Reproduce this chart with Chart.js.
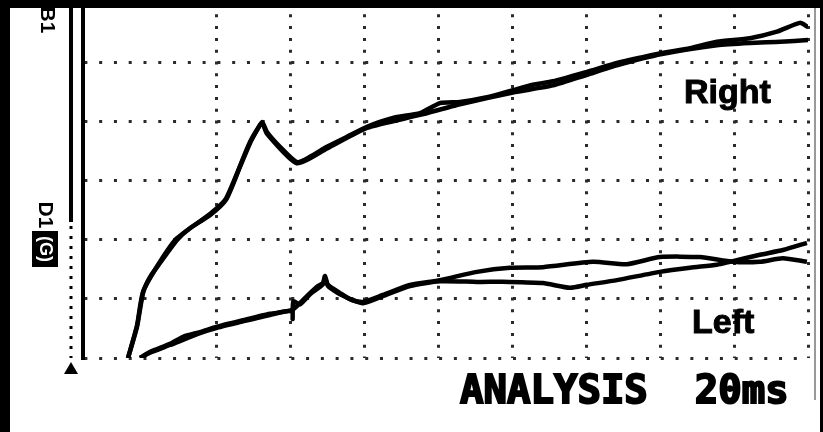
<!DOCTYPE html>
<html>
<head>
<meta charset="utf-8">
<script src="https://cdn.jsdelivr.net/npm/chart.js@4.4.1/dist/chart.umd.min.js"></script>
<style>
  html, body { margin: 0; padding: 0; background: #fff; }
  #wrap { width: 823px; height: 432px; }
</style>
</head>
<body>
<div id="wrap"><canvas id="myChart" width="823" height="432"></canvas></div>
<script>
// time in ms (20 ms per division), amplitude in divisions
const rightTimes1 = [-4.06, -1.62, 0, 1.89, 4.6, 9.2, 12.72, 18.13, 22.46, 26.25, 28.96, 30.85, 32.21, 33.56, 37.08, 41.68, 45.2, 49.8, 55.21, 60.62, 67.66, 74.97, 80.38, 85.79, 93.1, 100.14, 105.55, 110.96, 120.16, 128.28, 135.32, 140.46, 148.04, 155.35, 164.28, 171.59, 177.81, 179.98];
const rightValues1 = [0, 0.53, 1.1, 1.37, 1.61, 2.0, 2.2, 2.42, 2.68, 3.24, 3.64, 3.86, 4.0, 3.83, 3.58, 3.32, 3.41, 3.58, 3.75, 3.92, 4.07, 4.15, 4.32, 4.34, 4.42, 4.54, 4.63, 4.69, 4.85, 5.0, 5.1, 5.17, 5.25, 5.36, 5.42, 5.53, 5.68, 5.61];

const rightTimes2 = [-4.06, -1.62, 0, 4.6, 9.2, 18.13, 22.46, 28.96, 32.21, 33.56, 41.68, 49.8, 60.62, 74.97, 85.79, 100.14, 110.96, 120.16, 128.28, 140.46, 155.35, 164.28, 172.6, 180];
const rightValues2 = [0, 0.55, 1.12, 1.63, 2.03, 2.44, 2.7, 3.66, 3.98, 3.8, 3.3, 3.55, 3.9, 4.12, 4.3, 4.5, 4.62, 4.8, 4.96, 5.15, 5.3, 5.34, 5.36, 5.39];

const leftTimes1 = [-0.81, 1.89, 3.79, 7.31, 10.83, 15.43, 20.03, 27.06, 34.37, 40.33, 42.49, 45.2, 47.36, 48.72, 49.26, 50.07, 53.32, 56.56, 59.54, 64.95, 72.26, 80.38, 90.39, 99.32, 108.26, 121.79, 130.99, 139.92, 150.75, 159.68, 166.99, 173.21, 179.71];
const leftValues1 = [0, 0.1, 0.15, 0.24, 0.36, 0.44, 0.53, 0.64, 0.75, 0.81, 0.93, 1.1, 1.22, 1.27, 1.39, 1.24, 1.1, 0.98, 0.95, 1.07, 1.24, 1.32, 1.46, 1.53, 1.54, 1.63, 1.59, 1.71, 1.71, 1.63, 1.63, 1.69, 1.63];

const leftTimes2 = [-0.81, 1.89, 7.31, 15.43, 20.03, 27.06, 34.37, 40.3, 40.5, 40.7, 42.49, 45.2, 48.72, 49.26, 50.07, 53.32, 59.54, 64.95, 72.26, 80.38, 90.39, 99.32, 108.26, 115.56, 120.16, 128.28, 139.92, 148.04, 155.35, 158.87, 166.99, 173.21, 179.71];
const leftValues2 = [0, 0.09, 0.22, 0.42, 0.51, 0.62, 0.73, 0.8, 0.66, 0.96, 0.91, 1.08, 1.25, 1.36, 1.22, 1.08, 0.93, 1.05, 1.22, 1.3, 1.29, 1.29, 1.27, 1.19, 1.24, 1.32, 1.46, 1.53, 1.58, 1.63, 1.75, 1.83, 1.95];

const traceLabels = ['Right', 'Left'];
const footerText = 'ANALYSIS  20ms';
const sideLabels = ['B1', 'D1', '(G)'];

function pts(xs, ys) {
    return xs.map((x, i) => ({x: x, y: ys[i]}));
}

function trace(label, xs, ys) {
    return {
        label: label,
        data: pts(xs, ys),
        borderColor: '#000',
        borderWidth: 4.5,
        pointRadius: 0,
        tension: 0.2,
        fill: false
    };
}

// white page, black scan edges, labels and markings of the recorder
const decor = {
    id: 'decor',
    beforeDraw(chart) {
        const c = chart.ctx;
        c.save();
        c.fillStyle = '#fff';
        c.fillRect(0, 0, chart.width, chart.height);
        c.restore();
    },
    afterDraw(chart) {
        const c = chart.ctx;
        const a = chart.chartArea;
        c.save();
        // scan edges
        c.fillStyle = '#000';
        c.fillRect(0, 0, chart.width, 8);
        c.fillRect(0, 0, 10, chart.height);
        c.fillRect(820, 0, 3, chart.height);
        c.strokeStyle = '#999';
        c.lineWidth = 2;
        c.beginPath();
        c.moveTo(815, 8);
        c.lineTo(815, 400);
        c.stroke();

        // second vertical line, solid then dotted
        c.strokeStyle = '#000';
        c.lineWidth = 4;
        c.beginPath();
        c.moveTo(71, 8);
        c.lineTo(71, 222);
        c.stroke();
        c.lineWidth = 3;
        c.setLineDash([3, 7]);
        c.beginPath();
        c.moveTo(71, 226);
        c.lineTo(71, a.bottom);
        c.stroke();
        c.setLineDash([]);

        // trigger marker
        c.beginPath();
        c.moveTo(71, 362);
        c.lineTo(64, 374);
        c.lineTo(78, 374);
        c.closePath();
        c.fill();

        // rotated channel labels
        c.font = 'bold 21px "Liberation Sans", Arial, sans-serif';
        c.textAlign = 'center';
        c.textBaseline = 'middle';
        c.save();
        c.translate(47, 20);
        c.rotate(Math.PI / 2);
        c.fillText(sideLabels[0], 0, 0);
        c.restore();
        c.save();
        c.translate(45, 215);
        c.rotate(Math.PI / 2);
        c.fillText(sideLabels[1], 0, 0);
        c.restore();
        c.fillRect(32, 231, 26, 36);
        c.save();
        c.translate(45, 249);
        c.rotate(Math.PI / 2);
        c.fillStyle = '#fff';
        c.font = 'bold 18px "Liberation Sans", Arial, sans-serif';
        c.fillText(sideLabels[2], 0, 0);
        c.restore();

        // trace names
        c.textAlign = 'left';
        c.textBaseline = 'alphabetic';
        c.font = 'bold 34px "Liberation Sans", Arial, sans-serif';
        c.lineWidth = 1;
        c.fillText(traceLabels[0], 684, 103);
        c.strokeText(traceLabels[0], 684, 103);
        c.fillText(traceLabels[1], 692, 333);
        c.strokeText(traceLabels[1], 692, 333);

        // footer
        c.font = 'bold 39px "DejaVu Sans Mono", monospace';
        c.lineWidth = 2;
        c.fillText(footerText, 460, 403);
        c.strokeText(footerText, 460, 403);
        c.restore();
    }
};

const ctx = document.getElementById('myChart').getContext('2d');
const chart = new Chart(ctx, {
    type: 'line',
    data: {
        datasets: [
            trace('Right', rightTimes1, rightValues1),
            trace('Right 2', rightTimes2, rightValues2),
            trace('Left', leftTimes1, leftValues1),
            trace('Left 2', leftTimes2, leftValues2)
        ]
    },
    options: {
        responsive: false,
        animation: false,
        layout: {padding: {left: 83, right: 15, top: 8, bottom: 74}},
        plugins: {
            legend: {display: false},
            tooltip: {enabled: false}
        },
        scales: {
            x: {
                type: 'linear',
                min: -16.24,
                max: 180,
                ticks: {display: false, stepSize: 20},
                grid: {
                    color: '#2a2a2a',
                    lineWidth: 3,
                    drawTicks: false
                },
                border: {display: false, dash: [3, 8.8], dashOffset: 5.5}
            },
            y: {
                min: 0,
                max: 5.932,
                ticks: {display: false, stepSize: 1},
                grid: {
                    color: c => c.tick && c.tick.value > 5.5 ? 'rgba(0,0,0,0)' : '#2a2a2a',
                    lineWidth: 3,
                    drawTicks: false
                },
                border: {display: true, color: '#000', width: 4, dash: [3, 11.78], dashOffset: 0.62}
            }
        }
    },
    plugins: [decor]
});
</script>
</body>
</html>
